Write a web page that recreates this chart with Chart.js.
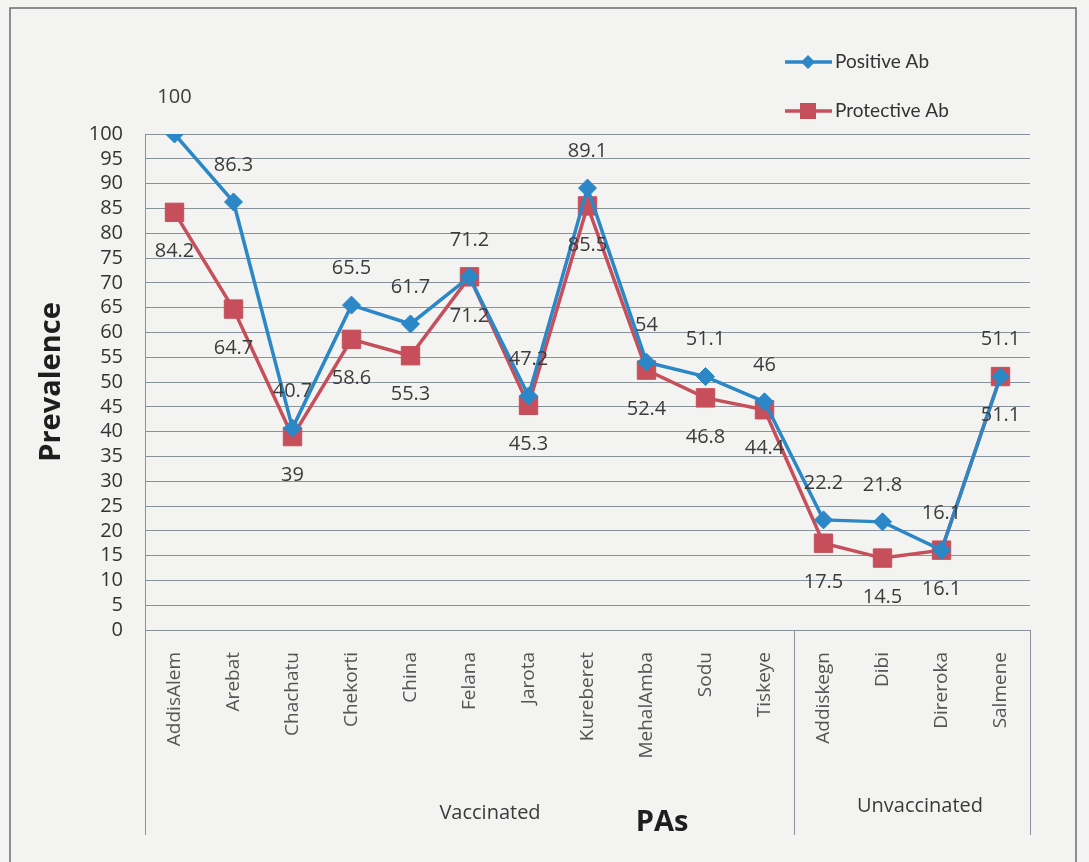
<!DOCTYPE html>
<html>
<head>
<meta charset="utf-8">
<script src="https://cdn.jsdelivr.net/npm/chart.js@4.4.1/dist/chart.umd.min.js"></script>
<style>
  html, body { margin: 0; padding: 0; background: #f1f1ef; }
  #wrap { width: 1089px; height: 862px; position: relative; }
</style>
</head>
<body>
<div id="wrap"><canvas id="myChart" width="1089" height="862"></canvas></div>
<script>
const places = ["AddisAlem", "Arebat", "Chachatu", "Chekorti", "China", "Felana", "Jarota",
  "Kureberet", "MehalAmba", "Sodu", "Tiskeye", "Addiskegn", "Dibi", "Direroka", "Salmene"];
const positiveAb = [100, 86.3, 40.7, 65.5, 61.7, 71.2, 47.2, 89.1, 54, 51.1, 46, 22.2, 21.8, 16.1, 51.1];
const protectiveAb = [84.2, 64.7, 39, 58.6, 55.3, 71.2, 45.3, 85.5, 52.4, 46.8, 44.4, 17.5, 14.5, 16.1, 51.1];
const groups = [
  { name: "Vaccinated", count: 11 },
  { name: "Unvaccinated", count: 4 },
];

const blue = "#2b87c6";
const red = "#c64f5b";
const gridColor = "#8a929c";
const font = "'Open Sans', 'Liberation Sans', sans-serif";

const overlay = {
  id: "overlay",
  beforeDraw(chart) {
    const c = chart.ctx;
    c.save();
    c.fillStyle = "#f3f3f1";
    c.fillRect(0, 0, chart.width, chart.height);
    c.strokeStyle = "#6a6f75";
    c.lineWidth = 1.5;
    c.strokeRect(10, 8, 1066, 880);
    c.restore();
  },
  afterDatasetsDraw(chart) {
    const c = chart.ctx;
    c.save();
    c.font = "20px " + font;
    c.fillStyle = "#3c3c3c";
    c.textAlign = "center";
    c.textBaseline = "middle";
    chart.getDatasetMeta(0).data.forEach((pt, i) => {
      c.fillText(String(positiveAb[i]), pt.x, pt.y - 37);
    });
    chart.getDatasetMeta(1).data.forEach((pt, i) => {
      c.fillText(String(protectiveAb[i]), pt.x, pt.y + 39);
    });
    c.restore();
  },
  afterDraw(chart) {
    const c = chart.ctx;
    const x = chart.scales.x;
    const area = chart.chartArea;
    c.save();

    // group brackets below the category labels
    c.strokeStyle = gridColor;
    c.lineWidth = 1;
    let start = 0;
    const edges = [area.left];
    groups.forEach((g) => {
      const end = start + g.count - 1;
      const right = end === places.length - 1 ? area.right
        : (x.getPixelForValue(end) + x.getPixelForValue(end + 1)) / 2;
      edges.push(right);
      start += g.count;
    });
    edges.forEach((ex) => {
      c.beginPath();
      c.moveTo(Math.round(ex) + 0.5, area.bottom);
      c.lineTo(Math.round(ex) + 0.5, 835);
      c.stroke();
    });
    c.font = "20px " + font;
    c.fillStyle = "#3a3a3a";
    c.textAlign = "center";
    c.textBaseline = "middle";
    c.fillText(groups[0].name, 490, 813);
    c.fillText(groups[1].name, 920, 806);

    // axis titles
    c.font = "bold 29px " + font;
    c.fillStyle = "#1e1e1e";
    c.fillText("PAs", 662, 823);
    c.translate(52, 382);
    c.rotate(-Math.PI / 2);
    c.fillText("Prevalence", 0, 0);
    c.setTransform(1, 0, 0, 1, 0, 0);

    // legend
    const items = [
      { label: "Positive Ab", color: blue, style: "diamond", y: 62 },
      { label: "Protective Ab", color: red, style: "square", y: 111 },
    ];
    c.font = "19px Lato, " + font;
    c.textAlign = "left";
    items.forEach((it) => {
      c.strokeStyle = it.color;
      c.fillStyle = it.color;
      c.lineWidth = 3.5;
      c.beginPath();
      c.moveTo(785, it.y);
      c.lineTo(832, it.y);
      c.stroke();
      c.beginPath();
      if (it.style === "diamond") {
        c.moveTo(808, it.y - 7);
        c.lineTo(815, it.y);
        c.lineTo(808, it.y + 7);
        c.lineTo(801, it.y);
        c.closePath();
      } else {
        c.rect(800, it.y - 8, 16, 16);
      }
      c.fill();
      c.fillStyle = "#333";
      c.fillText(it.label, 835, it.y);
    });
    c.restore();
  },
};

const ctx = document.getElementById("myChart").getContext("2d");
const myChart = new Chart(ctx, {
  type: "line",
  data: {
    labels: places,
    datasets: [
      {
        label: "Positive Ab",
        data: positiveAb,
        borderColor: blue,
        backgroundColor: blue,
        borderWidth: 3.5,
        pointStyle: "rectRot",
        pointRadius: 9,
        pointBorderWidth: 1,
        tension: 0,
      },
      {
        label: "Protective Ab",
        data: protectiveAb,
        borderColor: red,
        backgroundColor: red,
        borderWidth: 3.5,
        pointStyle: "rect",
        pointRadius: 13,
        pointBorderWidth: 1,
        tension: 0,
      },
    ],
  },
  options: {
    responsive: false,
    animation: false,
    layout: { padding: { left: 0, right: 59, top: 134, bottom: 0 } },
    plugins: {
      legend: { display: false },
      tooltip: { enabled: false },
    },
    scales: {
      x: {
        offset: true,
        grid: { display: false },
        border: { display: false },
        ticks: {
          minRotation: 90,
          maxRotation: 90,
          autoSkip: false,
          padding: 14,
          color: "#555",
          font: { family: font, size: 19 },
        },
        afterFit(scale) {
          scale.height = 232;
        },
      },
      y: {
        min: 0,
        max: 100,
        grid: { color: gridColor, lineWidth: 1, drawTicks: false },
        border: { display: true, color: gridColor, width: 1 },
        ticks: {
          stepSize: 5,
          autoSkip: false,
          padding: 22,
          color: "#333",
          font: { family: font, size: 20 },
        },
        afterFit(scale) {
          scale.width = 145;
        },
      },
    },
  },
  plugins: [overlay],
});
</script>
</body>
</html>
